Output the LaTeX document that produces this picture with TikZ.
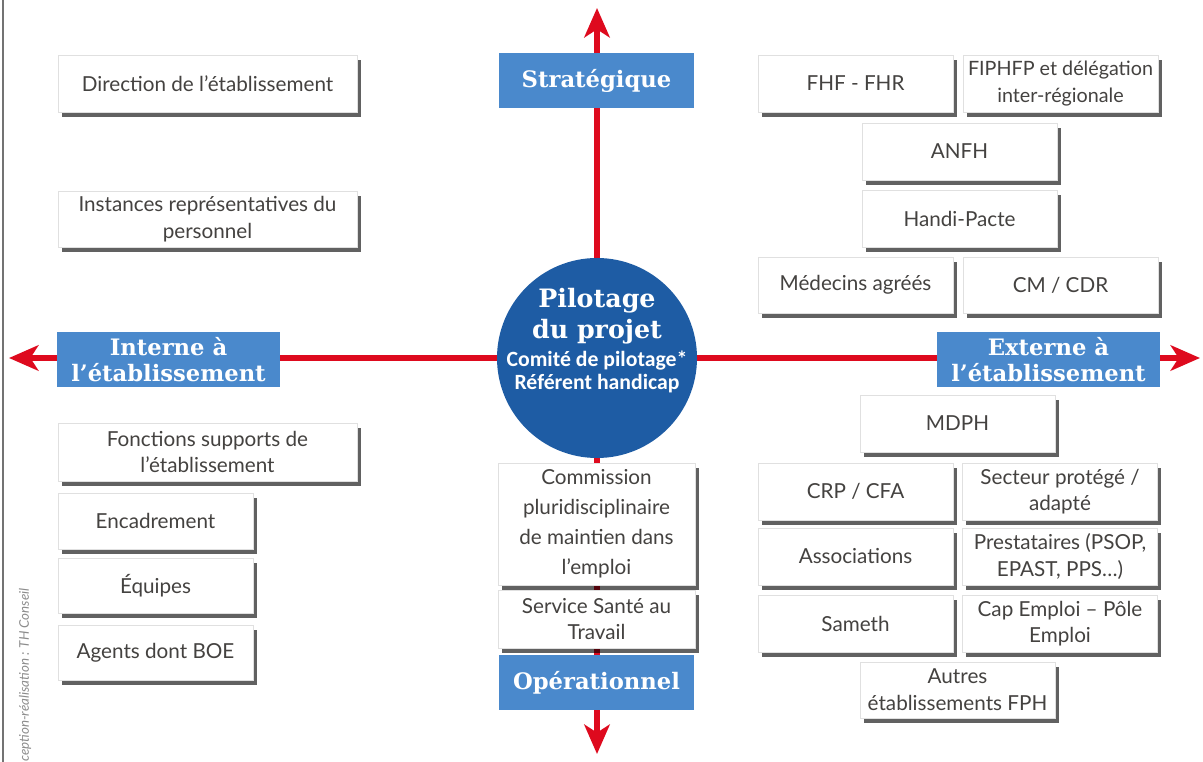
\documentclass[tikz,border=0pt]{standalone}
\usepackage{fontspec}
\setmainfont{Lato}
\newfontfamily\slabfont{DejaVu Serif}
\newfontfamily\condfont{Carlito}
\usetikzlibrary{arrows.meta,shadows}
\newdimen\px \px=0.75pt
\definecolor{arrred}{RGB}{222,10,30}
\definecolor{lblblue}{RGB}{74,137,204}
\definecolor{circblue}{RGB}{30,92,164}
\definecolor{boxtext}{RGB}{68,66,64}
\tikzset{
 x=0.75pt, y=-0.75pt,
 sbox/.style={draw=black!12, line width=0.4pt, fill=white, align=center, text=boxtext,
   font=\fontsize{15.5}{20}\selectfont, inner sep=0pt,
   drop shadow={shadow xshift=2.8pt, shadow yshift=-3.5pt, fill=black, opacity=0.62}},
 wide/.style={minimum width=299\px, minimum height=57\px},
 narrow/.style={minimum width=195\px, minimum height=57\px},
 lbl/.style={fill=lblblue, text=white, align=center,
   font=\slabfont\bfseries\fontsize{17}{20}\selectfont, inner sep=0pt, minimum height=55\px},
 axis/.style={draw=arrred, line width=4.5pt, -{Stealth[length=22pt,width=19pt,inset=6pt]}},
}
\begin{document}
\begin{tikzpicture}
\fill[white] (0,0) rectangle (1203,762);
\useasboundingbox (0,0) rectangle (1203,762);
\draw[black!55, line width=1pt] (3,0) -- (3,762);
\node[rotate=90, anchor=west, inner sep=0pt, text=black!45,
  font=\itshape\fontsize{10}{12}\selectfont] (credit) at (25,762) {ception-réalisation : TH Conseil};

% axes
\coordinate (ctr) at (597,358);
\coordinate (tipT) at (597,8);
\coordinate (tipB) at (597,754);
\coordinate (tipL) at (9,358);
\coordinate (tipR) at (1200,358);
\draw[axis] (ctr) -- (tipT);
\draw[axis] (ctr) -- (tipB);
\draw[axis] (ctr) -- (tipL);
\draw[axis] (ctr) -- (tipR);

% centre
\node[circle, fill=circblue, minimum size=200\px, inner sep=0pt] (pilot) at (ctr) {};
\node[align=center, text=white, inner sep=0pt, font=\slabfont\bfseries\fontsize{19}{23.5}\selectfont] (pilotA) at (597,316) {Pilotage\\du projet};
\node[align=center, text=white, inner sep=0pt, font=\condfont\bfseries\fontsize{16.3}{17.5}\selectfont] (pilotB) at (597,372) {Comité de pilotage*\\Référent handicap};

% labels
\node[lbl, minimum width=195\px] (strat) at (596.5,80.5) {Stratégique};
\node[lbl, minimum width=195\px] (oper) at (596.5,682.5) {Opérationnel};
\node[lbl, minimum width=223\px] (int) at (168.5,359.5) {Interne à\\l’établissement};
\node[lbl, minimum width=223\px] (ext) at (1048.5,359.5) {Externe à\\l’établissement};

% left
\node[sbox, wide] (dir) at (207.5,83.5) {Direction de l’établissement};
\node[sbox, wide, minimum height=56\px] (inst) at (207.5,219) {Instances représentatives du\\personnel};
\node[sbox, wide, minimum height=58\px] (fonc) at (207.5,452) {Fonctions supports de\\l’établissement};
\node[sbox, narrow, minimum height=56\px] (enc) at (155.5,521) {Encadrement};
\node[sbox, narrow, minimum height=55\px] (equ) at (155.5,585.5) {Équipes};
\node[sbox, narrow, minimum height=55\px] (agt) at (155.5,652.5) {Agents dont BOE};

% centre column
\node[sbox, minimum width=197\px, minimum height=122\px, font=\fontsize{15.5}{22.5}\selectfont] (comm) at (596.5,524) {Commission\\pluridisciplinaire\\de maintien dans\\l’emploi};
\node[sbox, minimum width=197\px, minimum height=58\px] (sst) at (596.5,619) {Service Santé au\\Travail};

% right
\node[sbox, narrow] (fhf) at (855.5,83.5) {FHF - FHR};
\node[sbox, narrow, font=\fontsize{14.8}{20}\selectfont] (fip) at (1060.5,83.5) {FIPHFP et délégation\\inter-régionale};
\node[sbox, narrow] (anfh) at (959.5,151.5) {ANFH};
\node[sbox, narrow] (handi) at (959.5,218.5) {Handi-Pacte};
\node[sbox, narrow, minimum height=56\px] (med) at (855.5,285) {Médecins agréés};
\node[sbox, narrow, minimum height=56\px] (cm) at (1060.5,285) {CM / CDR};
\node[sbox, narrow] (mdph) at (957.5,423.5) {MDPH};
\node[sbox, narrow] (crp) at (855.5,491.5) {CRP / CFA};
\node[sbox, narrow] (sect) at (1060,491.5) {Secteur protégé /\\adapté};
\node[sbox, narrow] (asso) at (855.5,556.5) {Associations};
\node[sbox, narrow] (prest) at (1060,556.5) {Prestataires (PSOP,\\EPAST, PPS…)};
\node[sbox, narrow] (sam) at (855.5,623.5) {Sameth};
\node[sbox, narrow] (cap) at (1060,623.5) {Cap Emploi – Pôle\\Emploi};
\node[sbox, narrow, minimum height=56\px] (autres) at (957.5,690) {Autres\\établissements FPH};
\end{tikzpicture}
\end{document}
